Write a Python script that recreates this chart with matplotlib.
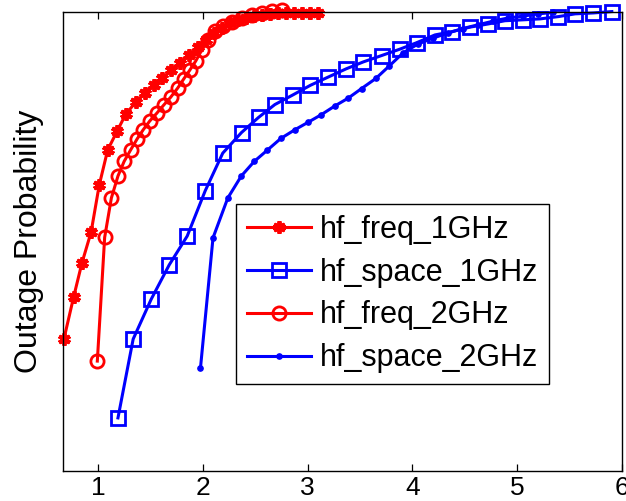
import matplotlib
matplotlib.use("Agg")
import matplotlib.pyplot as plt

plt.rcParams['font.family'] = ['Liberation Sans', 'DejaVu Sans']

# ======================
# Data
# ======================
freq_1g_x = [0.674, 0.767, 0.846, 0.934, 1.011, 1.092, 1.182, 1.264, 1.359, 1.445,
             1.531, 1.612, 1.698, 1.779, 1.870, 1.951, 2.027, 2.104, 2.180, 2.256,
             2.333, 2.409, 2.485, 2.562, 2.638, 2.714, 2.791, 2.867, 2.944, 3.020, 3.096]
freq_1g_y = [0.286, 0.378, 0.452, 0.520, 0.622, 0.699, 0.740, 0.777, 0.803, 0.823,
             0.841, 0.856, 0.873, 0.889, 0.906, 0.924, 0.939, 0.954, 0.965, 0.976,
             0.983, 0.988, 0.991, 0.993, 0.996, 0.997, 0.997, 0.998, 0.998, 0.998, 0.998]

space_1g_x = [1.190, 1.335, 1.507, 1.679, 1.851, 2.023, 2.190, 2.369, 2.532, 2.687,
              2.859, 3.026, 3.196, 3.368, 3.530, 3.706, 3.881, 4.040, 4.215, 4.374,
              4.549, 4.724, 4.883, 5.058, 5.218, 5.393, 5.552, 5.727, 5.903]
space_1g_y = [0.114, 0.286, 0.373, 0.448, 0.511, 0.610, 0.692, 0.737, 0.770, 0.798,
              0.819, 0.840, 0.858, 0.876, 0.891, 0.905, 0.919, 0.933, 0.950, 0.957,
              0.967, 0.974, 0.981, 0.983, 0.985, 0.990, 0.996, 0.998, 1.001]

freq_2g_x = [0.993, 1.063, 1.127, 1.190, 1.249, 1.311, 1.373, 1.431, 1.493, 1.560,
             1.627, 1.693, 1.760, 1.818, 1.875, 1.932, 1.990, 2.047, 2.114, 2.190,
             2.276, 2.371, 2.467, 2.562, 2.658, 2.753]
freq_2g_y = [0.238, 0.508, 0.594, 0.642, 0.674, 0.699, 0.723, 0.743, 0.762, 0.779,
             0.797, 0.814, 0.834, 0.854, 0.873, 0.893, 0.917, 0.939, 0.959, 0.969,
             0.978, 0.987, 0.993, 0.998, 1.002, 1.004]

space_2g_x = [1.977, 2.097, 2.238, 2.367, 2.491, 2.613, 2.744, 2.878, 3.002, 3.131,
              3.260, 3.387, 3.515, 3.651, 3.778, 3.912, 4.052, 4.196, 4.337, 4.481,
              4.624, 4.768, 4.911, 5.055, 5.198, 5.341]
space_2g_y = [0.222, 0.507, 0.594, 0.642, 0.674, 0.698, 0.724, 0.743, 0.759, 0.776,
              0.795, 0.812, 0.833, 0.855, 0.882, 0.911, 0.930, 0.943, 0.954, 0.964,
              0.972, 0.980, 0.987, 0.991, 0.996, 0.999]

labels = ['hf_freq_1GHz', 'hf_space_1GHz', 'hf_freq_2GHz', 'hf_space_2GHz']
x_ticks = [1, 2, 3, 4, 5, 6]

# ======================
# Plot
# ======================
fig = plt.figure(figsize=(6.26, 5.01), dpi=100)
ax = fig.add_axes([0.1014, 0.0589, 0.8922, 0.9171])

lw = 2.2
ax.plot(freq_1g_x, freq_1g_y, color='red', lw=lw, marker=(6, 2, 0),
        markersize=9, markeredgewidth=2.8, clip_on=False, label=labels[0])
ax.plot(space_1g_x, space_1g_y, color='blue', lw=lw, marker='s',
        markersize=9.5, markerfacecolor='none', markeredgewidth=2,
        clip_on=False, label=labels[1])
ax.plot(freq_2g_x, freq_2g_y, color='red', lw=lw, marker='o',
        markersize=9.5, markerfacecolor='none', markeredgewidth=2,
        clip_on=False, label=labels[2])
ax.plot(space_2g_x, space_2g_y, color='blue', lw=lw, marker='o',
        markersize=3.8, clip_on=False, label=labels[3])

ax.set_xlim(0.67, 6)
ax.set_ylim(-0.003, 1.0)
ax.set_xticks(x_ticks)
ax.set_yticks([])
ax.tick_params(axis='x', direction='in', length=5, width=0.9,
               top=True, labelsize=19, pad=3)
for s in ax.spines.values():
    s.set_linewidth(1.0)

ax.set_ylabel('Outage Probability', fontsize=23, labelpad=14)

leg = ax.legend(loc='upper left', bbox_to_anchor=(0.309, 0.582),
                borderaxespad=0, fontsize=22, numpoints=1,
                handlelength=2.1, handletextpad=0.3, labelspacing=0.42,
                borderpad=0.35, fancybox=False, framealpha=1,
                edgecolor='black')
leg.get_frame().set_linewidth(1.0)

plt.savefig("out.png", dpi=100)
